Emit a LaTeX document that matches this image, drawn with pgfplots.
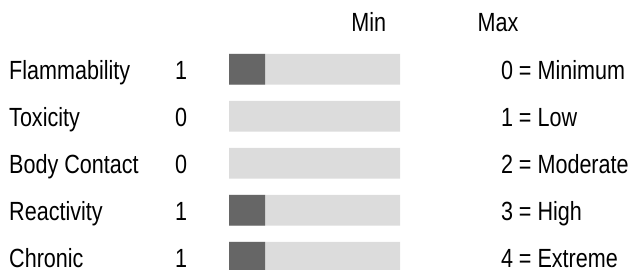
\documentclass[border=0pt]{standalone}
\usepackage{fontspec}
\setmainfont{Liberation Sans}[FakeStretch=0.82]
\usepackage{pgfplots}
\pgfplotsset{compat=1.18}
\definecolor{barbg}{RGB}{220,220,220}
\definecolor{barfg}{RGB}{102,102,102}
\begin{document}
\begin{tikzpicture}[txt/.style={font=\fontsize{26.3pt}{30pt}\selectfont, inner sep=0pt, text depth=0pt, text=black}]
\path[use as bounding box] (0,0) rectangle (631pt,-270pt);
\begin{axis}[
  at={(229pt,-45.8pt)}, anchor=north west,
  scale only axis, width=171pt, height=235pt,
  xmin=0, xmax=4.75, ymin=-0.5, ymax=4.5, y dir=reverse,
  hide axis, clip=false,
  xbar, bar width=30.7pt, bar shift=0pt,
]
\addplot[fill=barbg, draw=none] coordinates {(4.75,0) (4.75,1) (4.75,2) (4.75,3) (4.75,4)};
\addplot[fill=barfg, draw=none, restrict x to domain=0.001:10] coordinates {(1,0) (0,1) (0,2) (1,3) (1,4)};
% headers
\node[txt, anchor=base] at (axis cs:3.883,0) [yshift=37.8pt] {Min};
\node[txt, anchor=base] at (axis cs:7.472,0) [yshift=37.8pt] {Max};
% category labels
\node[txt, anchor=base west] at (axis cs:-6.111,0) [yshift=-9.8pt] {Flammability};
\node[txt, anchor=base west] at (axis cs:-6.111,1) [yshift=-9.8pt] {Toxicity};
\node[txt, anchor=base west] at (axis cs:-6.111,2) [yshift=-9.8pt] {Body Contact};
\node[txt, anchor=base west] at (axis cs:-6.111,3) [yshift=-9.8pt] {Reactivity};
\node[txt, anchor=base west] at (axis cs:-6.111,4) [yshift=-9.8pt] {Chronic};
% values
\node[txt, anchor=base west] at (axis cs:-1.5,0) [yshift=-9.8pt] {1};
\node[txt, anchor=base west] at (axis cs:-1.5,1) [yshift=-9.8pt] {0};
\node[txt, anchor=base west] at (axis cs:-1.5,2) [yshift=-9.8pt] {0};
\node[txt, anchor=base west] at (axis cs:-1.5,3) [yshift=-9.8pt] {1};
\node[txt, anchor=base west] at (axis cs:-1.5,4) [yshift=-9.8pt] {1};
% legend
\node[txt, anchor=base west] at (axis cs:7.55,0) [yshift=-9.8pt] {0 = Minimum};
\node[txt, anchor=base west] at (axis cs:7.55,1) [yshift=-9.8pt] {1 = Low};
\node[txt, anchor=base west] at (axis cs:7.55,2) [yshift=-9.8pt] {2 = Moderate};
\node[txt, anchor=base west] at (axis cs:7.55,3) [yshift=-9.8pt] {3 = High};
\node[txt, anchor=base west] at (axis cs:7.55,4) [yshift=-9.8pt] {4 = Extreme};
\end{axis}
\end{tikzpicture}
\end{document}
